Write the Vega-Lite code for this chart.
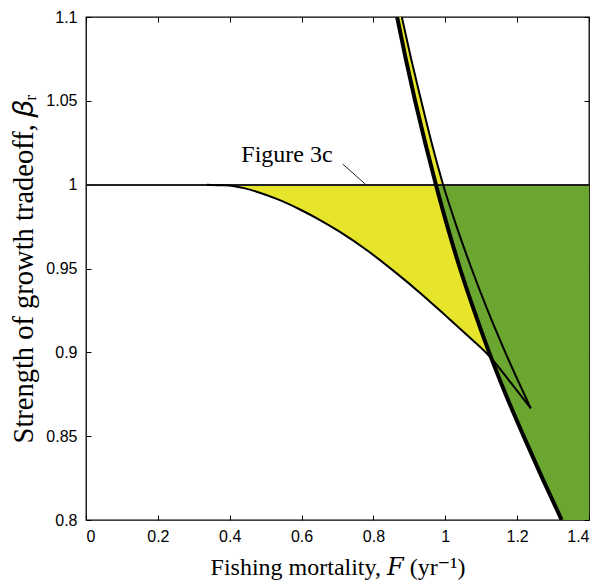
{
  "$schema": "https://vega.github.io/schema/vega-lite/v6.json",
  "width": 503,
  "height": 503,
  "autosize": {"type": "none"},
  "padding": {"left": 86, "top": 17, "right": 14, "bottom": 64},
  "background": "white",
  "config": {
    "view": {"stroke": "black", "strokeWidth": 1.3},
    "axis": {
      "grid": false,
      "domain": false,
      "offset": -5,
      "tickColor": "black",
      "tickWidth": 1,
      "tickSize": 5,
      "labelFont": "Liberation Sans",
      "labelFontSize": 16,
      "labelColor": "black",
      "titleFont": "Liberation Serif, DejaVu Serif",
      "titleFontWeight": "normal",
      "titleColor": "black"
    }
  },
  "datasets": {
    "green": [
      {"beta": 1.0, "F": 0.974},
      {"beta": 0.975, "F": 1.006},
      {"beta": 0.95, "F": 1.041},
      {"beta": 0.925, "F": 1.08},
      {"beta": 0.9, "F": 1.122},
      {"beta": 0.875, "F": 1.168},
      {"beta": 0.85, "F": 1.218},
      {"beta": 0.825, "F": 1.27},
      {"beta": 0.8, "F": 1.324}
    ],
    "strip": [
      {"beta": 1.0, "thick": 0.974, "thin": 0.994},
      {"beta": 1.025, "thick": 0.944, "thin": 0.962},
      {"beta": 1.05, "thick": 0.916, "thin": 0.933},
      {"beta": 1.075, "thick": 0.89, "thin": 0.905},
      {"beta": 1.1, "thick": 0.866, "thin": 0.879}
    ],
    "yellow": [
      {"F": 0.3368, "lo": 1.0, "hi": 1.0},
      {"F": 0.373, "lo": 0.9997, "hi": 1.0},
      {"F": 0.4091, "lo": 0.9992, "hi": 1.0},
      {"F": 0.4425, "lo": 0.9978, "hi": 1.0},
      {"F": 0.4751, "lo": 0.9958, "hi": 1.0},
      {"F": 0.5344, "lo": 0.9912, "hi": 1.0},
      {"F": 0.5956, "lo": 0.9852, "hi": 1.0},
      {"F": 0.6513, "lo": 0.9789, "hi": 1.0},
      {"F": 0.7069, "lo": 0.9718, "hi": 1.0},
      {"F": 0.7849, "lo": 0.9604, "hi": 1.0},
      {"F": 0.8647, "lo": 0.9471, "hi": 1.0},
      {"F": 0.9324, "lo": 0.935, "hi": 1.0},
      {"F": 0.974, "lo": 0.927, "hi": 1.0},
      {"F": 1.0039, "lo": 0.9213, "hi": 0.9766},
      {"F": 1.0604, "lo": 0.9103, "hi": 0.9376},
      {"F": 1.09, "lo": 0.9044, "hi": 0.919},
      {"F": 1.123, "lo": 0.8985, "hi": 0.8985}
    ],
    "curves": [
      {"series": "thick", "F": 0.866, "beta": 1.1},
      {"series": "thick", "F": 0.89, "beta": 1.075},
      {"series": "thick", "F": 0.916, "beta": 1.05},
      {"series": "thick", "F": 0.944, "beta": 1.025},
      {"series": "thick", "F": 0.974, "beta": 1.0},
      {"series": "thick", "F": 1.006, "beta": 0.975},
      {"series": "thick", "F": 1.041, "beta": 0.95},
      {"series": "thick", "F": 1.08, "beta": 0.925},
      {"series": "thick", "F": 1.122, "beta": 0.9},
      {"series": "thick", "F": 1.168, "beta": 0.875},
      {"series": "thick", "F": 1.218, "beta": 0.85},
      {"series": "thick", "F": 1.27, "beta": 0.825},
      {"series": "thick", "F": 1.324, "beta": 0.8},
      {"series": "thin", "F": 0.879, "beta": 1.1},
      {"series": "thin", "F": 0.905, "beta": 1.075},
      {"series": "thin", "F": 0.933, "beta": 1.05},
      {"series": "thin", "F": 0.962, "beta": 1.025},
      {"series": "thin", "F": 0.994, "beta": 1.0},
      {"series": "thin", "F": 1.0316, "beta": 0.975},
      {"series": "thin", "F": 1.073, "beta": 0.95},
      {"series": "thin", "F": 1.118, "beta": 0.925},
      {"series": "thin", "F": 1.167, "beta": 0.9},
      {"series": "thin", "F": 1.238, "beta": 0.8666},
      {"series": "lower", "F": 0.3368, "beta": 1.0},
      {"series": "lower", "F": 0.373, "beta": 0.9997},
      {"series": "lower", "F": 0.4091, "beta": 0.9992},
      {"series": "lower", "F": 0.4425, "beta": 0.9978},
      {"series": "lower", "F": 0.4751, "beta": 0.9958},
      {"series": "lower", "F": 0.5344, "beta": 0.9912},
      {"series": "lower", "F": 0.5956, "beta": 0.9852},
      {"series": "lower", "F": 0.6513, "beta": 0.9789},
      {"series": "lower", "F": 0.7069, "beta": 0.9718},
      {"series": "lower", "F": 0.7849, "beta": 0.9604},
      {"series": "lower", "F": 0.8647, "beta": 0.9471},
      {"series": "lower", "F": 0.9324, "beta": 0.935},
      {"series": "lower", "F": 1.0039, "beta": 0.9213},
      {"series": "lower", "F": 1.0604, "beta": 0.9103},
      {"series": "lower", "F": 1.1197, "beta": 0.8984},
      {"series": "lower", "F": 1.18, "beta": 0.8826},
      {"series": "lower", "F": 1.238, "beta": 0.8666},
      {"series": "leader", "F": 0.7145, "beta": 1.0123},
      {"series": "leader", "F": 0.777, "beta": 1.0004}
    ],
    "labels": [
      {"F": 0.5594, "beta": 1.0138, "text": "Figure 3c"}
    ]
  },
  "resolve": {"axis": {"x": "independent", "y": "independent"}},
  "layer": [
    {
      "layer": [
        {
          "data": {"name": "green"},
          "mark": {"type": "area", "orient": "horizontal", "color": "#6BA631", "clip": true},
          "encoding": {
            "y": {"field": "beta", "type": "quantitative"},
            "x": {"field": "F", "type": "quantitative"},
            "x2": {"datum": 1.4}
          }
        },
        {
          "data": {"name": "yellow"},
          "mark": {"type": "area", "orient": "vertical", "color": "#E6E52B", "interpolate": "monotone", "clip": true},
          "encoding": {
            "x": {"field": "F", "type": "quantitative"},
            "y": {"field": "lo", "type": "quantitative"},
            "y2": {"field": "hi"}
          }
        },
        {
          "data": {"name": "strip"},
          "mark": {"type": "area", "orient": "horizontal", "color": "#E6E52B", "clip": true},
          "encoding": {
            "y": {"field": "beta", "type": "quantitative"},
            "x": {"field": "thick", "type": "quantitative"},
            "x2": {"field": "thin"}
          }
        },
        {
          "data": {"name": "curves"},
          "mark": {"type": "rule", "color": "#222222", "strokeWidth": 1},
          "encoding": {"y": {"datum": 1}}
        },
        {
          "data": {"name": "curves"},
          "transform": [{"filter": "datum.series === 'lower' || datum.series === 'thin'"}],
          "mark": {"type": "line", "color": "black", "strokeWidth": 2, "interpolate": "monotone", "clip": true},
          "encoding": {
            "x": {"field": "F", "type": "quantitative"},
            "y": {"field": "beta", "type": "quantitative"},
            "detail": {"field": "series"}
          }
        },
        {
          "data": {"name": "curves"},
          "transform": [{"filter": "datum.series === 'thick'"}],
          "mark": {"type": "line", "color": "black", "strokeWidth": 4, "interpolate": "monotone", "clip": true},
          "encoding": {
            "x": {"field": "F", "type": "quantitative"},
            "y": {"field": "beta", "type": "quantitative"}
          }
        },
        {
          "data": {"name": "curves"},
          "transform": [{"filter": "datum.series === 'leader'"}],
          "mark": {"type": "line", "color": "#222222", "strokeWidth": 1},
          "encoding": {
            "x": {"field": "F", "type": "quantitative"},
            "y": {"field": "beta", "type": "quantitative"}
          }
        },
        {
          "data": {"name": "labels"},
          "mark": {"type": "text", "font": "Liberation Serif", "fontSize": 24, "align": "center", "baseline": "alphabetic", "color": "black"},
          "encoding": {
            "x": {"field": "F", "type": "quantitative"},
            "y": {"field": "beta", "type": "quantitative"},
            "text": {"field": "text"}
          }
        }
      ],
      "encoding": {
        "x": {
          "type": "quantitative",
          "scale": {"domain": [0, 1.4], "nice": false, "zero": false},
          "axis": {
            "orient": "bottom",
            "values": [0, 0.2, 0.4, 0.6, 0.8, 1, 1.2, 1.4],
            "format": "~g",
            "labelPadding": 8,
            "title": "Fishing mortality, 𝐹 (yr⁻¹)",
            "titleFontSize": 24,
            "titleY": 59,
            "titleBaseline": "alphabetic"
          }
        },
        "y": {
          "type": "quantitative",
          "scale": {"domain": [0.8, 1.1], "nice": false, "zero": false},
          "axis": {
            "orient": "left",
            "values": [0.8, 0.85, 0.9, 0.95, 1, 1.05, 1.1],
            "format": "~g",
            "labelPadding": 9,
            "title": "Strength of growth tradeoff, 𝛽ᵣ",
            "titleFontSize": 28.5,
            "titleX": -59,
            "titleBaseline": "alphabetic"
          }
        }
      }
    },
    {
      "data": {"name": "labels"},
      "mark": {"type": "point", "opacity": 0},
      "encoding": {
        "x": {
          "field": "F",
          "type": "quantitative",
          "scale": {"domain": [0, 1.4], "nice": false, "zero": false},
          "axis": {"orient": "top", "values": [0, 0.2, 0.4, 0.6, 0.8, 1, 1.2, 1.4], "labels": false, "title": null}
        },
        "y": {
          "field": "beta",
          "type": "quantitative",
          "scale": {"domain": [0.8, 1.1], "nice": false, "zero": false},
          "axis": {"orient": "right", "values": [0.8, 0.85, 0.9, 0.95, 1, 1.05, 1.1], "labels": false, "title": null}
        }
      }
    }
  ]
}
